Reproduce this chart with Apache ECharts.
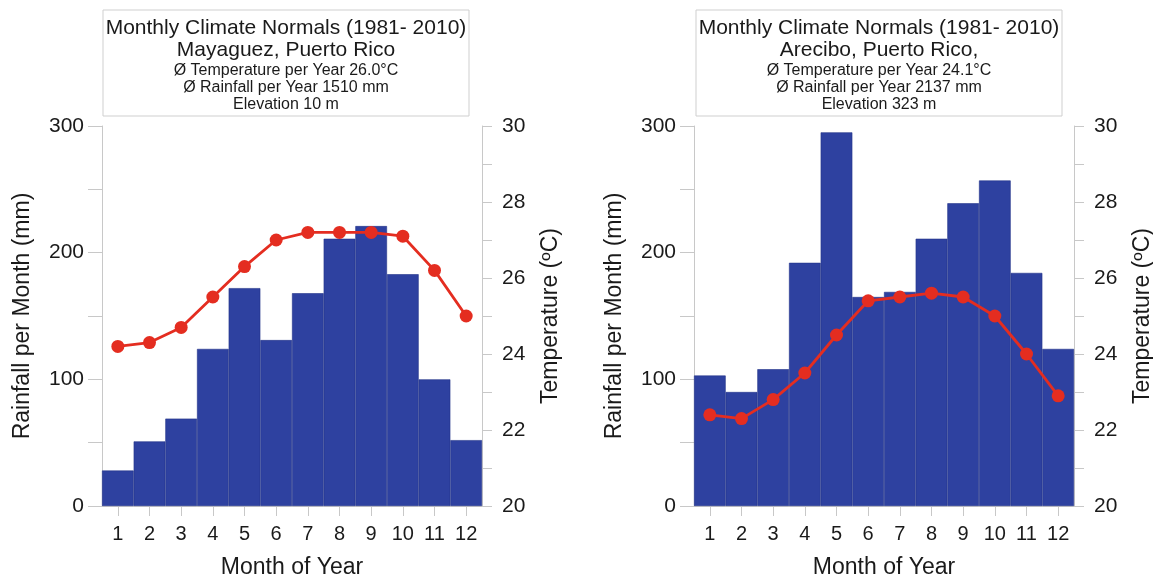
<!DOCTYPE html>
<html>
<head>
<meta charset="utf-8">
<script src="https://cdn.jsdelivr.net/npm/echarts@6/dist/echarts.min.js"></script>
<style>
html,body{margin:0;padding:0;background:#fff;}
#chart{width:1153px;height:576px;}
</style>
</head>
<body>
<div id="chart"></div>
<script>
// ---- data ----
var months = ['1','2','3','4','5','6','7','8','9','10','11','12'];
var mayaguezRain = [28, 51, 69, 124, 172, 131, 168, 211, 221, 183, 100, 52];
var mayaguezTemp = [24.2, 24.3, 24.7, 25.5, 26.3, 27.0, 27.2, 27.2, 27.2, 27.1, 26.2, 25.0];
var areciboRain = [103, 90, 108, 192, 295, 165, 169, 211, 239, 257, 184, 124];
var areciboTemp = [22.4, 22.3, 22.8, 23.5, 24.5, 25.4, 25.5, 25.6, 25.5, 25.0, 24.0, 22.9];
var titleLines1 = ['Monthly Climate Normals (1981- 2010)', 'Mayaguez, Puerto Rico', 'Ø Temperature per Year 26.0°C', 'Ø Rainfall per Year 1510 mm', 'Elevation 10 m'];
var titleLines2 = ['Monthly Climate Normals (1981- 2010)', 'Arecibo, Puerto Rico,', 'Ø Temperature per Year 24.1°C', 'Ø Rainfall per Year 2137 mm', 'Elevation 323 m'];
var rainAxisName = 'Rainfall per Month (mm)';
var tempAxisName = 'Temperature (ºC)';
var monthAxisName = 'Month of Year';

var FONT = '"Liberation Sans", Arial, sans-serif';
var AXIS_GREY = '#c8c8c8';
var BAR_COLOR = '#2E41A0';
var LINE_COLOR = '#E42D20';
var TEXT = '#1a1a1a';

var chart = echarts.init(document.getElementById('chart'));

var grids = [
  {left: 102, right: 671, top: 126, height: 380, containLabel: false, outerBoundsMode: 'none'},
  {left: 694, right: 79, top: 126, height: 380, containLabel: false, outerBoundsMode: 'none'}
];

function xAxis(i) {
  return {
    type: 'category', gridIndex: i, data: months, boundaryGap: true,
    name: monthAxisName, nameLocation: 'middle', nameGap: 50,
    nameTextStyle: {fontFamily: FONT, fontSize: 23, color: TEXT},
    axisLine: {show: true, lineStyle: {color: AXIS_GREY, width: 1}},
    axisTick: {show: true, alignWithLabel: true, length: 10, lineStyle: {color: AXIS_GREY}},
    axisLabel: {fontFamily: FONT, fontSize: 20, color: TEXT, margin: 18, interval: 0},
    splitLine: {show: false}
  };
}
function rainAxis(i) {
  return {
    type: 'value', gridIndex: i, min: 0, max: 300, interval: 50, position: 'left',
    name: rainAxisName, nameLocation: 'middle', nameGap: 68,
    nameTextStyle: {fontFamily: FONT, fontSize: 23, color: TEXT},
    axisLine: {show: true, lineStyle: {color: AXIS_GREY}},
    axisTick: {show: true, length: 14, lineStyle: {color: AXIS_GREY}},
    axisLabel: {fontFamily: FONT, fontSize: 21, color: TEXT, margin: 18,
      formatter: function (v) { return v % 100 === 0 ? String(v) : ''; }},
    splitLine: {show: false}
  };
}
function tempAxis(i) {
  return {
    type: 'value', gridIndex: i, min: 20, max: 30, interval: 1, position: 'right',
    name: tempAxisName, nameLocation: 'middle', nameGap: 57,
    nameTextStyle: {fontFamily: FONT, fontSize: 23, color: TEXT},
    axisLine: {show: true, lineStyle: {color: AXIS_GREY}},
    axisTick: {show: true, length: 10, lineStyle: {color: AXIS_GREY}},
    axisLabel: {fontFamily: FONT, fontSize: 21, color: TEXT, margin: 20,
      formatter: function (v) { return v % 2 === 0 ? String(v) : ''; }},
    splitLine: {show: false}
  };
}
function barSeries(i, data) {
  return {
    type: 'bar', xAxisIndex: i, yAxisIndex: i * 2, data: data, barWidth: '100%', barGap: '0%',
    itemStyle: {color: BAR_COLOR, borderColor: '#24348a', borderWidth: 0.6},
    z: 2, silent: true
  };
}
function lineSeries(i, data) {
  return {
    type: 'line', xAxisIndex: i, yAxisIndex: i * 2 + 1, data: data,
    symbol: 'circle', symbolSize: 13,
    lineStyle: {color: LINE_COLOR, width: 2.8},
    itemStyle: {color: LINE_COLOR},
    z: 3, silent: true
  };
}
function titleBox(x, w, lines) {
  var sizes = [21, 21, 16, 16, 16];
  var ys = [28, 50, 71, 88, 105];
  var children = [{
    type: 'rect', shape: {x: x, y: 10, width: w, height: 106},
    style: {fill: '#fff', stroke: '#cfcfcf', lineWidth: 1}
  }];
  lines.forEach(function (t, k) {
    children.push({
      type: 'text', x: x + w / 2, y: ys[k],
      style: {text: t, fontFamily: FONT, fontSize: sizes[k], fill: TEXT,
        align: 'center', verticalAlign: 'middle'}
    });
  });
  return {type: 'group', children: children};
}

chart.setOption({
  animation: false,
  backgroundColor: '#fff',
  grid: grids,
  xAxis: [xAxis(0), xAxis(1)],
  yAxis: [rainAxis(0), tempAxis(0), rainAxis(1), tempAxis(1)],
  series: [barSeries(0, mayaguezRain), lineSeries(0, mayaguezTemp),
           barSeries(1, areciboRain), lineSeries(1, areciboTemp)],
  graphic: [titleBox(103, 366, titleLines1), titleBox(696, 366, titleLines2)]
});
</script>
</body>
</html>
